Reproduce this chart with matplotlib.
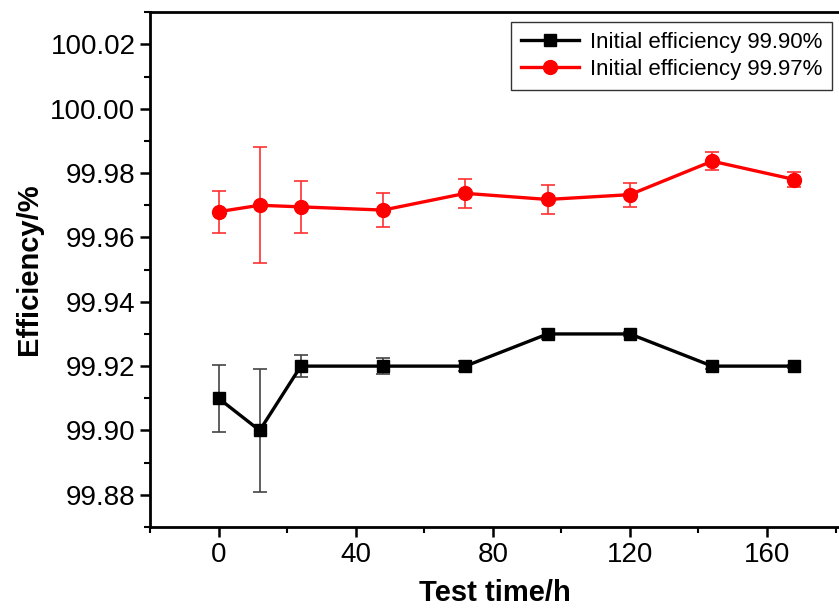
import numpy as np
import matplotlib
matplotlib.use("Agg")
import matplotlib.pyplot as plt
from matplotlib.ticker import MultipleLocator, FormatStrFormatter

plt.rcParams['font.family'] = ['Liberation Sans', 'DejaVu Sans']

# data
time_h = [0, 12, 24, 48, 72, 96, 120, 144, 168]

eff_090 = [99.910, 99.900, 99.920, 99.920, 99.920, 99.930, 99.930, 99.920, 99.920]
err_090 = [0.0105, 0.019, 0.0035, 0.0025, 0.0015, 0.0015, 0.0005, 0.001, 0.0005]

eff_097 = [99.968, 99.970, 99.9695, 99.9685, 99.9737, 99.9718, 99.9733, 99.9837, 99.978]
err_097 = [0.0065, 0.018, 0.008, 0.0052, 0.0045, 0.0045, 0.0037, 0.0028, 0.0023]

labels = ['Initial efficiency 99.90%', 'Initial efficiency 99.97%']

fig = plt.figure(figsize=(8.39, 6.11), dpi=100)
ax = fig.add_axes([0.1788, 0.1375, 0.8212, 0.8425])

# error bars (kept out of the legend)
ax.errorbar(time_h, eff_090, yerr=err_090, fmt='none', ecolor='#444444',
            elinewidth=1.2, capsize=5, capthick=1.2, zorder=2)
ax.errorbar(time_h, eff_097, yerr=err_097, fmt='none', ecolor='#ff3030',
            elinewidth=1.2, capsize=5, capthick=1.2, zorder=2)

ax.plot(time_h, eff_090, color='black', marker='s', markersize=9,
        linewidth=2.4, label=labels[0], zorder=3)
ax.plot(time_h, eff_097, color='#ff0000', marker='o', markersize=10,
        linewidth=2.4, label=labels[1], zorder=3)

ax.set_xlim(-20, 181)
ax.set_ylim(99.87, 100.03)
ax.xaxis.set_major_locator(MultipleLocator(40))
ax.xaxis.set_minor_locator(MultipleLocator(20))
ax.yaxis.set_major_locator(MultipleLocator(0.02))
ax.yaxis.set_minor_locator(MultipleLocator(0.01))
ax.yaxis.set_major_formatter(FormatStrFormatter('%.2f'))

ax.tick_params(which='major', direction='out', length=7, width=1.8, labelsize=20)
ax.tick_params(which='minor', direction='out', length=4, width=1.5)
for s in ax.spines.values():
    s.set_linewidth(2)
ax.spines['right'].set_visible(False)

ax.set_xlabel('Test time/h', fontsize=21, fontweight='bold', labelpad=8)
ax.set_ylabel('Efficiency/%', fontsize=21, fontweight='bold', labelpad=5)

leg = ax.legend(loc='upper right', bbox_to_anchor=(0.99, 0.981), borderaxespad=0,
                fontsize=16, frameon=True, fancybox=False, edgecolor='black',
                handlelength=2.6, borderpad=0.45, labelspacing=0.25, handletextpad=0.5)
leg.get_frame().set_linewidth(1.0)

fig.savefig('out.png', dpi=100)
